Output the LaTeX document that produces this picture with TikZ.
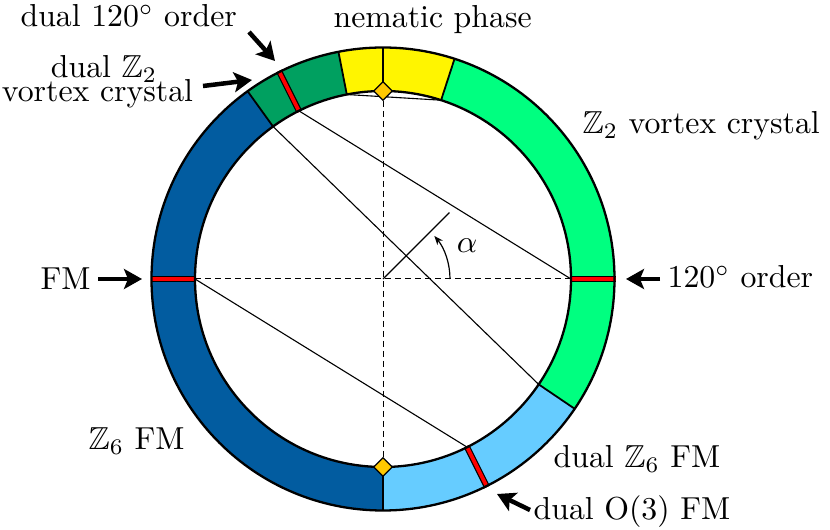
\RequirePackage{fix-cm}
\documentclass[tikz,border=0pt]{standalone}
\usepackage{amssymb}
\usetikzlibrary{arrows.meta,shapes.geometric}
\definecolor{cdblue}{RGB}{2,92,160}
\definecolor{clblue}{RGB}{102,204,255}
\definecolor{cgreen}{RGB}{0,255,128}
\definecolor{cdgreen}{RGB}{0,160,96}
\definecolor{cyellow}{RGB}{255,245,0}
\definecolor{cdiam}{RGB}{255,200,0}
\tikzset{
  lbl/.style={inner sep=0pt, font=\fontsize{10}{12}\selectfont, scale=3.18},
  bigarrow/.style={line width=4.5pt, -{Stealth[length=18pt,width=20pt,inset=4pt]}},
  divider/.style={line width=1.8pt},
  chord/.style={line width=1.1pt},
  axisline/.style={line width=1pt, dash pattern=on 6pt off 4pt},
  marker/.style={diamond, draw=black, line width=1.2pt, fill=cdiam, minimum size=19pt, inner sep=0pt},
}
\begin{document}
\begin{tikzpicture}[x=1pt,y=1pt]
\useasboundingbox (0,0) rectangle (830,530);
\begin{scope}[shift={(383,251)}]
  % ring segments
  \fill[cgreen] (-34.1:231.5) arc[start angle=-34.1,end angle=72,radius=231.5] -- (72:188) arc[start angle=72,end angle=-34.1,radius=188] -- cycle;
  \fill[cyellow] (72:231.5) arc[start angle=72,end angle=101.1,radius=231.5] -- (101.1:188) arc[start angle=101.1,end angle=72,radius=188] -- cycle;
  \fill[cdgreen] (101.1:231.5) arc[start angle=101.1,end angle=125.8,radius=231.5] -- (125.8:188) arc[start angle=125.8,end angle=101.1,radius=188] -- cycle;
  \fill[cdblue] (125.8:231.5) arc[start angle=125.8,end angle=270,radius=231.5] -- (270:188) arc[start angle=270,end angle=125.8,radius=188] -- cycle;
  \fill[clblue] (270:231.5) arc[start angle=270,end angle=325.9,radius=231.5] -- (325.9:188) arc[start angle=325.9,end angle=270,radius=188] -- cycle;
  % dividers
  \foreach \a in {-34.1,72,90,101.1,125.8,270}
    \draw[divider] (\a:188) -- (\a:231.5);
  % red marks
  \foreach \a in {0,116.57,180,296.57}{
    \draw[line width=6.2pt] (\a:187) -- (\a:232.5);
    \draw[red, line width=3.8pt] (\a:187) -- (\a:232.5);
  }
  % ring outline
  \draw[line width=2.3pt] (0,0) circle[radius=231.5];
  \draw[line width=2.3pt] (0,0) circle[radius=188];
  % named points on inner circle
  \coordinate (c0) at (0:188);
  \coordinate (c72) at (72:188);
  \coordinate (c101) at (101.1:188);
  \coordinate (c116) at (116.57:188);
  \coordinate (c125) at (125.8:188);
  \coordinate (c180) at (180:188);
  \coordinate (c296) at (296.57:188);
  \coordinate (c325) at (325.9:188);
  \coordinate (ctop) at (90:188);
  \coordinate (cbot) at (270:188);
  \coordinate (o) at (0,0);
  % chords
  \draw[chord] (c72) -- (c101);
  \draw[chord] (c116) -- (c0);
  \draw[chord] (c125) -- (c325);
  \draw[chord] (c180) -- (c296);
  % axes
  \draw[axisline] (c180) -- (c0);
  \draw[axisline] (ctop) -- (cbot);
  % diamonds
  \node[marker] (dtop) at (ctop) {};
  \node[marker] (dbot) at (cbot) {};
  % alpha
  \coordinate (aend) at (45:94);
  \draw[line width=1.2pt] (o) -- (aend);
  \coordinate (astart) at (0:67);
  \draw[line width=1.2pt, -{Stealth[length=9pt,width=7pt]}] (astart) arc[start angle=0,end angle=40,radius=67];
  \node[lbl] (alpha) at (84,33) {$\alpha$};
\end{scope}
% labels
\node[lbl, anchor=base west] (l120d) at (20,503) {dual $120^\circ$ order};
\node[lbl, anchor=base] (lz2da) at (104,452) {dual $\mathbb{Z}_2$};
\node[lbl, anchor=base] (lz2db) at (97.5,428) {vortex crystal};
\node[lbl, anchor=base west] (lnem) at (333,502) {nematic phase};
\node[lbl, anchor=base west] (lz2) at (582,396) {$\mathbb{Z}_2$ vortex crystal};
\node[lbl, anchor=base west] (lfm) at (40,240) {FM};
\node[lbl, anchor=base west] (l120) at (667,242) {$120^\circ$ order};
\node[lbl, anchor=base west] (lz6) at (88,80) {$\mathbb{Z}_6$ FM};
\node[lbl, anchor=base west] (lz6d) at (553,62) {dual $\mathbb{Z}_6$ FM};
\node[lbl, anchor=base west] (lo3) at (533,10) {dual O(3) FM};
% arrows
\coordinate (t1) at (249,498); \coordinate (h1) at (275,469);
\coordinate (t2) at (203,444); \coordinate (h2) at (252,450);
\coordinate (t3) at (98,251);  \coordinate (h3) at (142,251);
\coordinate (t4) at (660,251); \coordinate (h4) at (626,251);
\coordinate (t5) at (530,20);  \coordinate (h5) at (497,36);
\draw[bigarrow] (t1) -- (h1);
\draw[bigarrow] (t2) -- (h2);
\draw[bigarrow] (t3) -- (h3);
\draw[bigarrow] (t4) -- (h4);
\draw[bigarrow] (t5) -- (h5);
\end{tikzpicture}
\end{document}
